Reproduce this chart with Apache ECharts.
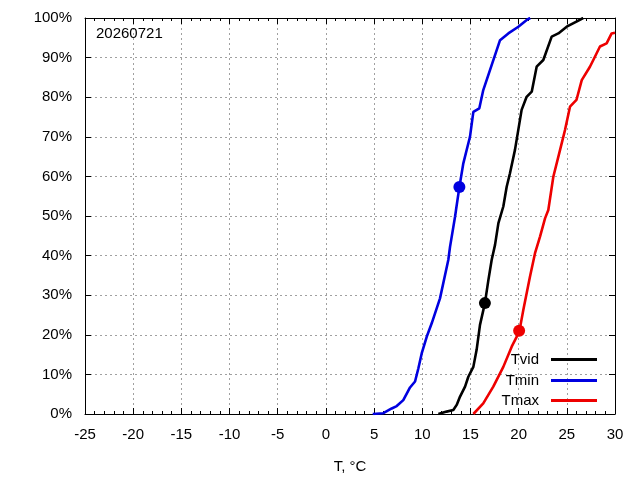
<!DOCTYPE html>
<html>
<head>
<meta charset="utf-8">
<script src="https://cdn.jsdelivr.net/npm/echarts@6/dist/echarts.min.js"></script>
<style>
  html, body { margin: 0; padding: 0; background: #fff; }
  #container { width: 640px; height: 480px; }
</style>
</head>
<body>
<div id="container"></div>
<script>
// cumulative distribution, T in °C, share in %
let tvidT = [11.67, 12.53, 13.22, 13.57, 13.92, 14.44, 14.78, 15.3, 15.64, 15.99, 16.5, 16.86, 17.2, 17.55, 17.9, 18.41, 18.76, 19.1, 19.62, 20.31, 20.83, 21.36, 21.87, 22.56, 23.43, 24.12, 24.99, 26.0, 26.7];
let tvidP = [0, 0.6, 1, 2.3, 4.4, 6.9, 9.4, 11.9, 16.2, 22.5, 28, 33.8, 38.9, 42.7, 48.2, 52.4, 57.4, 60.8, 66.7, 76.8, 80.1, 81.4, 87.7, 89.4, 95.3, 96.1, 97.8, 99.1, 100];

let tminT = [4.86, 5.96, 6.83, 7.35, 8.03, 8.73, 9.25, 9.59, 9.94, 10.46, 10.98, 11.84, 12.7, 12.88, 13.4, 13.5, 13.85, 14.26, 14.95, 15.3, 15.92, 16.33, 17.2, 18.07, 18.93, 19.97, 20.84, 21.2];
let tminP = [0, 0.2, 1.4, 2, 3.5, 6.7, 8.2, 11.5, 15.3, 19.5, 22.9, 29.2, 38.9, 42.2, 49.8, 51.5, 57.3, 63.3, 70, 76.3, 77.2, 81.8, 88.1, 94.4, 96.1, 97.8, 99.5, 100];

let tmaxT = [15.3, 16.33, 17.37, 18.41, 19.28, 20.07, 20.49, 21.18, 21.7, 22.22, 22.74, 23.08, 23.6, 24.3, 24.81, 25.33, 26.0, 26.55, 27.4, 27.75, 28.44, 29.13, 29.65, 30.0];
let tmaxP = [0, 2.7, 6.9, 11.9, 17, 20.8, 26.3, 34.7, 40.6, 44.8, 49.4, 51.5, 59.9, 66.7, 71.7, 77.6, 79.3, 84.3, 87.7, 89.4, 92.8, 93.6, 96.1, 96.3];

// today's values
let todayTvid = [16.5, 28];
let todayTmin = [13.85, 57.3];
let todayTmax = [20.05, 21];

let dateLabel = '20260721';

let dom = document.getElementById("container");
let myChart = echarts.init(dom);

let font = 'Liberation Sans';
let fs = 15;

function pairs(xs, ys) {
    return xs.map(function (x, i) { return [x, ys[i]]; });
}

function curve(name, color, xs, ys) {
    return {
        name: name,
        type: 'line',
        data: pairs(xs, ys),
        showSymbol: false,
        lineStyle: { color: color, width: 2.6 },
        itemStyle: { color: color },
        animation: false,
        clip: true
    };
}

function dot(color, pt) {
    return {
        type: 'scatter',
        data: [pt],
        symbolSize: 12,
        itemStyle: { color: color, opacity: 1 },
        animation: false,
        z: 5
    };
}

function legendItem(name, top) {
    return {
        data: [name],
        right: 43,
        top: top,
        padding: 0,
        align: 'right',
        icon: 'rect',
        itemWidth: 46,
        itemHeight: 3,
        selectedMode: false,
        textStyle: { fontFamily: font, fontSize: fs, color: '#000', padding: [0, 7, 0, 0] }
    };
}

let gridLine = { show: true, lineStyle: { color: '#a0a0a0', type: [2, 3], width: 1 } };
let frame = { show: true, onZero: false, lineStyle: { color: '#000', width: 1 } };
let majorTick = { show: true, inside: true, length: 6, lineStyle: { color: '#000' } };
let minorTick = { show: true, splitNumber: 5, length: 3, lineStyle: { color: '#000' } };

let option = {
    backgroundColor: '#fff',
    title: {
        text: dateLabel,
        left: 96,
        top: 26,
        padding: 0,
        textStyle: { fontFamily: font, fontSize: fs, fontWeight: 'normal', color: '#000' }
    },
    legend: [
        legendItem('Tvid', 352),
        legendItem('Tmin', 373),
        legendItem('Tmax', 393)
    ],
    grid: { left: 85, right: 25, top: 18, bottom: 66, containLabel: false },
    xAxis: [{
        type: 'value',
        min: -25,
        max: 30,
        interval: 5,
        name: 'T, °C',
        nameLocation: 'middle',
        nameGap: 45,
        nameTextStyle: { fontFamily: font, fontSize: fs, color: '#000' },
        axisLine: frame,
        axisTick: majorTick,
        minorTick: minorTick,
        axisLabel: { fontFamily: font, fontSize: fs, color: '#000', margin: 13 },
        splitLine: gridLine
    }, {
        type: 'value',
        position: 'top',
        min: -25,
        max: 30,
        interval: 5,
        axisLine: frame,
        axisTick: majorTick,
        minorTick: minorTick,
        axisLabel: { show: false },
        splitLine: { show: false }
    }],
    yAxis: [{
        type: 'value',
        min: 0,
        max: 100,
        interval: 10,
        axisLine: frame,
        axisTick: majorTick,
        axisLabel: { fontFamily: font, fontSize: fs, color: '#000', margin: 13, formatter: '{value}%' },
        splitLine: gridLine
    }, {
        type: 'value',
        position: 'right',
        min: 0,
        max: 100,
        interval: 10,
        axisLine: frame,
        axisTick: majorTick,
        axisLabel: { show: false },
        splitLine: { show: false }
    }],
    series: [
        curve('Tvid', '#000000', tvidT, tvidP),
        curve('Tmin', '#0000e0', tminT, tminP),
        curve('Tmax', '#ee0000', tmaxT, tmaxP),
        dot('#000000', todayTvid),
        dot('#0000e0', todayTmin),
        dot('#ee0000', todayTmax)
    ]
};

myChart.setOption(option);
</script>
</body>
</html>
